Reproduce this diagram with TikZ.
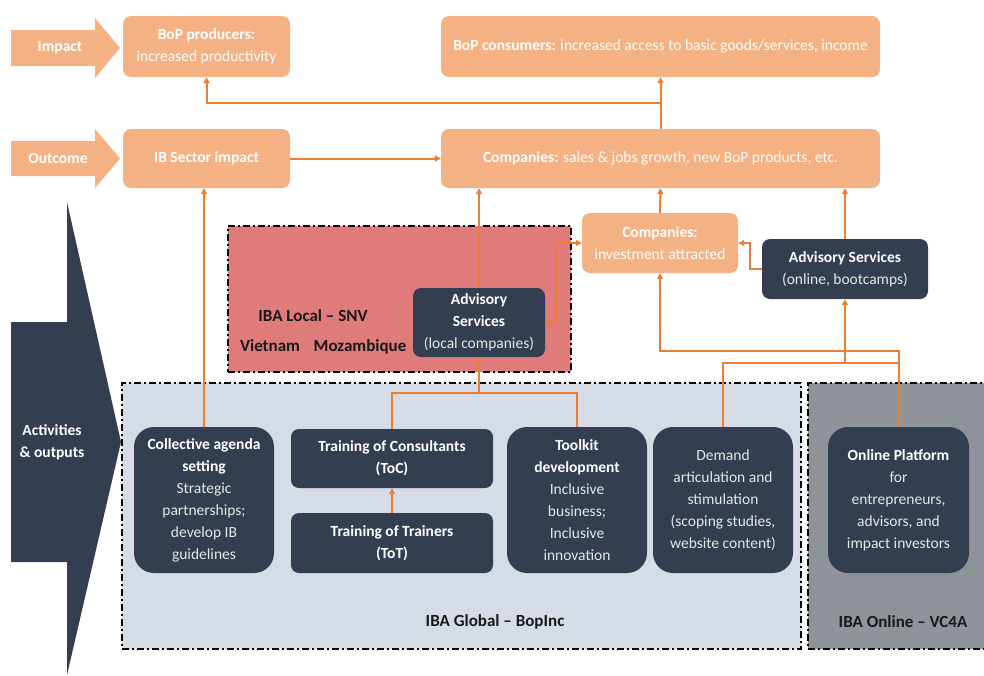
\documentclass[tikz,border=0pt]{standalone}
\usepackage{fontspec}
\setmainfont{Carlito}
\usetikzlibrary{arrows.meta}

\definecolor{orangeBox}{HTML}{F4B183}
\definecolor{orangeLine}{HTML}{ED7D31}
\definecolor{navyBox}{HTML}{333F50}
\definecolor{globalFill}{HTML}{D6DCE5}
\definecolor{onlineFill}{HTML}{8F939A}
\definecolor{localFill}{HTML}{E07B7B}
\definecolor{softWhite}{HTML}{E6E6E6}

\begin{document}
\begin{tikzpicture}[x=1pt, y=-1pt, >={Triangle[length=6pt, width=6pt]}]
        % --- Styles ---
        \tikzset{
            txt/.style={font=\fontsize{15.5}{22}\selectfont, align=center, inner sep=0pt},
            orangebox/.style={txt, fill=orangeBox, text=white, rounded corners=8pt},
            darkbox/.style={txt, fill=navyBox, text=softWhite, rounded corners=8pt},
            roundbox/.style={darkbox, rounded corners=20pt},
            zone/.style={draw=black, line width=2.6pt, dash pattern=on 7pt off 3pt on 2pt off 3pt},
            zonelabel/.style={txt, font=\fontsize{17}{22}\selectfont\bfseries, text=black!90},
            levelarrow/.style={fill=orangeBox},
            levellabel/.style={txt, font=\fontsize{15.5}{22}\selectfont\bfseries, text=white},
            link/.style={->, draw=orangeLine, line width=2pt},
            wire/.style={draw=orangeLine, line width=2pt}
        }
        \useasboundingbox (0,0) rectangle (984,675);

        % =====================================================================
        % LEVEL ARROWS (left)
        % =====================================================================
        \path[levelarrow] (11,30) -- (95,30) -- (95,18) -- (120,48) -- (95,78) -- (95,66) -- (11,66) -- cycle;
        \node[levellabel] (lblImpact) at (60,48) {Impact};

        \path[levelarrow] (11,141) -- (95,141) -- (95,129) -- (120,158.5) -- (95,188) -- (95,176) -- (11,176) -- cycle;
        \node[levellabel] (lblOutcome) at (58,158.5) {Outcome};

        \path[fill=navyBox] (11,322) -- (67,322) -- (67,202) -- (121,442) -- (67,675) -- (67,562) -- (11,562) -- cycle;
        \node[levellabel] (lblActivities) at (52,442) {Activities\\\& outputs};

        % =====================================================================
        % ZONES (IBA Local / Global / Online)
        % =====================================================================
        \node[zone, fill=globalFill, minimum width=679, minimum height=266] (boxGlobal) at (461.5,516) {};
        \node[zone, fill=onlineFill, minimum width=184, minimum height=266] (boxOnline) at (900,516) {};
        \node[zone, fill=localFill, minimum width=343, minimum height=146] (boxLocal) at (399.5,299) {};

        \node[zonelabel] (lblLocal) at (313,316) {IBA Local -- SNV};
        \node[zonelabel] (lblVietnam) at (270,346) {Vietnam};
        \node[zonelabel] (lblMozambique) at (360,347) {Mozambique};
        \node[zonelabel] (lblGlobal) at (495,622) {IBA Global -- BopInc};
        \node[zonelabel] (lblOnline) at (903,622) {IBA Online -- VC4A};

        % =====================================================================
        % IMPACT & OUTCOME BOXES
        % =====================================================================
        \node[orangebox, minimum width=167, minimum height=61] (prodBoP) at (206.5,46.5)
            {\textbf{BoP producers:}\\increased productivity};
        \node[orangebox, minimum width=439, minimum height=61] (consBoP) at (660.5,46.5)
            {\textbf{BoP consumers:} increased access to basic goods/services, income};
        \node[orangebox, minimum width=167, minimum height=59] (sectorIB) at (206.5,158.5)
            {\textbf{IB Sector impact}};
        \node[orangebox, minimum width=439, minimum height=59] (compSales) at (660.5,158.5)
            {\textbf{Companies:} sales \& jobs growth, new BoP products, etc.};
        \node[orangebox, minimum width=156, minimum height=60] (compInvest) at (660,243)
            {\textbf{Companies:}\\investment attracted};

        % =====================================================================
        % ACTIVITIES & OUTPUTS
        % =====================================================================
        \node[darkbox, minimum width=166, minimum height=60] (advOnline) at (845,269)
            {\textcolor{white}{\textbf{Advisory Services}}\\(online, bootcamps)};
        \node[darkbox, minimum width=132, minimum height=69] (advLocal) at (479,322.5)
            {\textcolor{white}{\textbf{Advisory}}\\\textcolor{white}{\textbf{Services}}\\(local companies)};

        \node[roundbox, minimum width=140, minimum height=146] (agenda) at (204,500)
            {\textcolor{white}{\textbf{Collective agenda}}\\\textcolor{white}{\textbf{setting}}\\Strategic\\partnerships;\\develop IB\\guidelines};
        \node[darkbox, minimum width=202, minimum height=59] (toc) at (392,458.5)
            {\textcolor{white}{\textbf{Training of Consultants}}\\\textcolor{white}{\textbf{(ToC)}}};
        \node[darkbox, minimum width=202, minimum height=60] (tot) at (392,543)
            {\textcolor{white}{\textbf{Training of Trainers}}\\\textcolor{white}{\textbf{(ToT)}}};
        \node[roundbox, minimum width=140, minimum height=146] (toolkit) at (577,500)
            {\textcolor{white}{\textbf{Toolkit}}\\\textcolor{white}{\textbf{development}}\\Inclusive\\business;\\Inclusive\\innovation};
        \node[roundbox, minimum width=140, minimum height=146] (demand) at (723,500)
            {Demand\\articulation and\\stimulation\\(scoping studies,\\website content)};
        \node[roundbox, minimum width=141, minimum height=146] (platform) at (898.5,500)
            {\textcolor{white}{\textbf{Online Platform}}\\for\\entrepreneurs,\\advisors, and\\impact investors};

        % =====================================================================
        % CONNECTORS
        % =====================================================================
        \coordinate (jTop) at (660.5,103);
        \coordinate (jTrain) at (479,393);
        \coordinate (jInvest) at (660,351);
        \coordinate (jDemand) at (845,363);

        \draw[link] (compSales.north) -- (consBoP.south);
        \draw[link] (jTop) -| (prodBoP.south);
        \draw[link] (sectorIB.east) -- (compSales.west);
        \draw[link] (agenda.north) -- (agenda.north |- sectorIB.south);
        \draw[link] (advLocal.north) -- (advLocal.north |- compSales.south);
        \draw[link] (compInvest.north) -- (compSales.south);
        \draw[link] (advOnline.north) -- (advOnline.north |- compSales.south);
        \draw[link] (advOnline.west) -- ++(-12,0) |- (compInvest.east);
        \draw[link] (advLocal.east) -- ++(12,0) |- (compInvest.west);

        \draw[wire] (toc.north) |- (jTrain) -| (toolkit.north);
        \draw[link] (jTrain) -- (advLocal.south);
        \draw[link] (tot.north) -- (toc.south);

        \draw[link] (platform.north) |- (jInvest) -- (compInvest.south);
        \draw[wire] (demand.north) |- (platform.north |- jDemand);
        \draw[link] (jDemand) -- (advOnline.south);

    \end{tikzpicture}
\end{document}
